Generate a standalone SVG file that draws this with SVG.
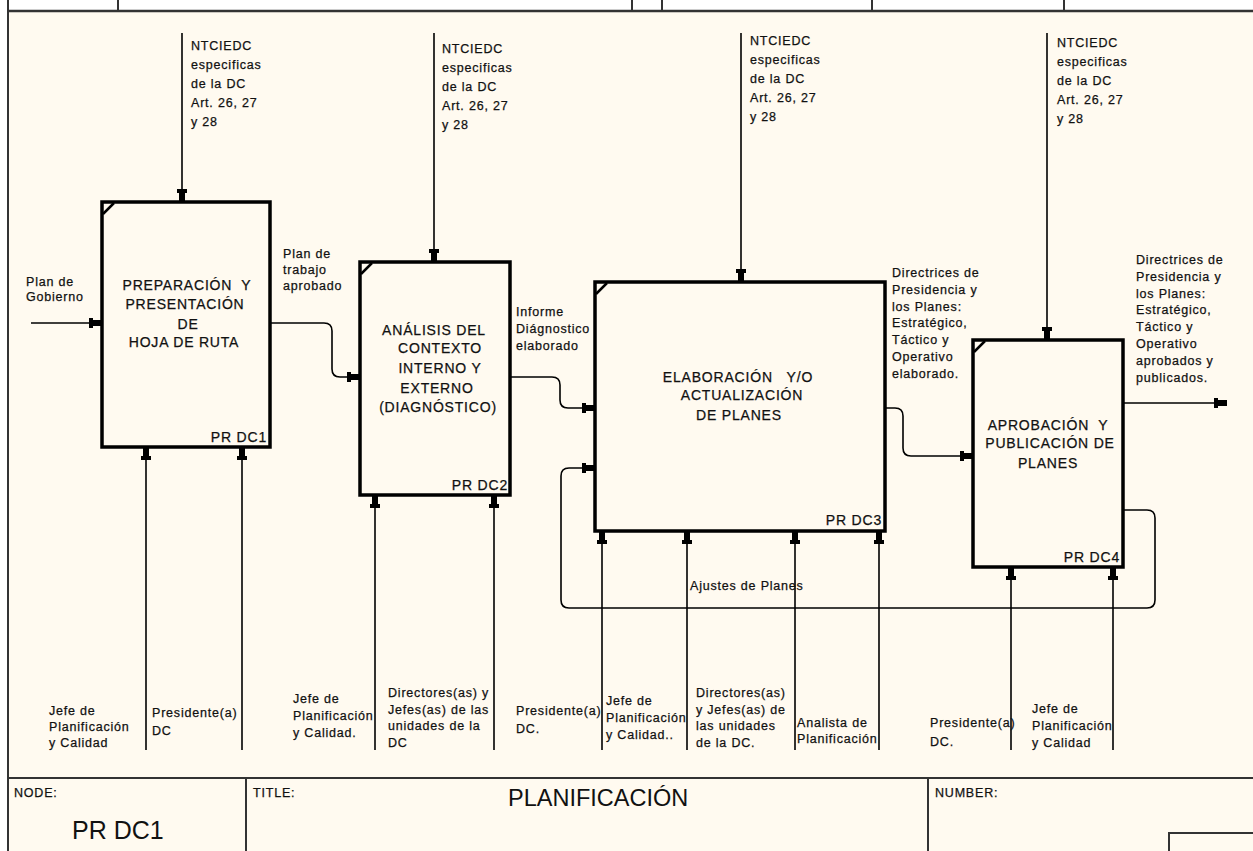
<svg xmlns="http://www.w3.org/2000/svg" width="1253" height="851" viewBox="0 0 1253 851">
<defs>
<style>
text{font-family:"Liberation Sans",Arial,sans-serif;fill:#111;stroke:#111;stroke-width:0.25px}
.s{font-size:12.5px;letter-spacing:0.8px}
.b{font-size:14px;letter-spacing:0.8px;text-anchor:middle}
.id{font-size:14px;letter-spacing:0.8px;text-anchor:end}
.big{font-size:25px;stroke-width:0}
.box{fill:none;stroke:#000;stroke-width:3.5}
.crn{stroke:#000;stroke-width:2.5;fill:none}
.ln{fill:none;stroke:#000;stroke-width:1.6}
.fr{stroke:#333;stroke-width:2;fill:none}
</style>
<marker id="ah" markerUnits="userSpaceOnUse" viewBox="-14 -6 15 12" refX="0" refY="0" markerWidth="15" markerHeight="12" orient="auto">
<path d="M-13,-5 L-9,-5 L-9,-3 L0,-3 L0,3 L-9,3 L-9,5 L-13,5 Z" fill="#000"/>
</marker>
</defs>
<rect x="0" y="0" width="1253" height="851" fill="#fff"/>
<rect x="8" y="11" width="1245" height="840" fill="#fffaf0"/>
<g id="frame">
<line class="fr" x1="8" y1="11" x2="1253" y2="11" style="stroke-width:2.5"/>
<line class="fr" x1="8" y1="0" x2="8" y2="851"/>
<line class="fr" x1="118" y1="0" x2="118" y2="11"/>
<line class="fr" x1="632" y1="0" x2="632" y2="11"/>
<line class="fr" x1="662" y1="0" x2="662" y2="11"/>
<line class="fr" x1="872" y1="0" x2="872" y2="11"/>
<line class="fr" x1="1064" y1="0" x2="1064" y2="11"/>
<line class="fr" x1="8" y1="778" x2="1253" y2="778"/>
<line class="fr" x1="246" y1="778" x2="246" y2="851"/>
<line class="fr" x1="928" y1="778" x2="928" y2="851"/>
<rect class="fr" x="1169" y="833" width="100" height="40"/>
<text class="s" x="14" y="797">NODE:</text>
<text class="s" x="253" y="797">TITLE:</text>
<text class="s" x="935" y="797">NUMBER:</text>
<text class="big" x="72" y="839">PR DC1</text>
<text class="big" x="508" y="806" style="font-size:23.5px">PLANIFICACIÓN</text>
</g>
<g id="connectors">
<path class="ln" d="M182,33 V202" marker-end="url(#ah)"/>
<path class="ln" d="M434,33 V262" marker-end="url(#ah)"/>
<path class="ln" d="M741,33 V282" marker-end="url(#ah)"/>
<path class="ln" d="M1047,33 V340" marker-end="url(#ah)"/>
<path class="ln" d="M31,323 H102" marker-end="url(#ah)"/>
<path class="ln" d="M270,323 H324 Q332,323 332,331 V369 Q332,377 340,377 H360" marker-end="url(#ah)"/>
<path class="ln" d="M510,377 H552 Q560,377 560,385 V400 Q560,408 568,408 H595" marker-end="url(#ah)"/>
<path class="ln" d="M885,408 H895 Q903,408 903,416 V448 Q903,456 911,456 H973" marker-end="url(#ah)"/>
<path class="ln" d="M1123,403 H1227" marker-end="url(#ah)"/>
<path class="ln" d="M1123,510 H1147 Q1155,510 1155,518 V600 Q1155,608 1147,608 H569 Q561,608 561,600 V476 Q561,468 569,468 H595" marker-end="url(#ah)"/>
<path class="ln" d="M146,750 V447" marker-end="url(#ah)"/>
<path class="ln" d="M242,750 V447" marker-end="url(#ah)"/>
<path class="ln" d="M375,750 V495" marker-end="url(#ah)"/>
<path class="ln" d="M494,750 V495" marker-end="url(#ah)"/>
<path class="ln" d="M602,750 V531" marker-end="url(#ah)"/>
<path class="ln" d="M687,750 V531" marker-end="url(#ah)"/>
<path class="ln" d="M795,750 V531" marker-end="url(#ah)"/>
<path class="ln" d="M879,750 V531" marker-end="url(#ah)"/>
<path class="ln" d="M1011,750 V567" marker-end="url(#ah)"/>
<path class="ln" d="M1113,750 V567" marker-end="url(#ah)"/>
</g>
<g id="labels">
<text class="s" x="191" y="50"><tspan x="191">NTCIEDC</tspan><tspan x="191" dy="19">especificas</tspan><tspan x="191" dy="19">de la DC</tspan><tspan x="191" dy="19">Art. 26, 27</tspan><tspan x="191" dy="19">y 28</tspan></text>
<text class="s" x="442" y="53"><tspan x="442">NTCIEDC</tspan><tspan x="442" dy="19">especificas</tspan><tspan x="442" dy="19">de la DC</tspan><tspan x="442" dy="19">Art. 26, 27</tspan><tspan x="442" dy="19">y 28</tspan></text>
<text class="s" x="750" y="45"><tspan x="750">NTCIEDC</tspan><tspan x="750" dy="19">especificas</tspan><tspan x="750" dy="19">de la DC</tspan><tspan x="750" dy="19">Art. 26, 27</tspan><tspan x="750" dy="19">y 28</tspan></text>
<text class="s" x="1057" y="47"><tspan x="1057">NTCIEDC</tspan><tspan x="1057" dy="19">especificas</tspan><tspan x="1057" dy="19">de la DC</tspan><tspan x="1057" dy="19">Art. 26, 27</tspan><tspan x="1057" dy="19">y 28</tspan></text>
<text class="s" x="26" y="286"><tspan x="26">Plan de</tspan><tspan x="26" dy="15">Gobierno</tspan></text>
<text class="s" x="283" y="258"><tspan x="283">Plan de</tspan><tspan x="283" dy="16">trabajo</tspan><tspan x="283" dy="16">aprobado</tspan></text>
<text class="s" x="516" y="316"><tspan x="516">Informe</tspan><tspan x="516" dy="17">Diágnostico</tspan><tspan x="516" dy="17">elaborado</tspan></text>
<text class="s" x="892" y="277"><tspan x="892">Directrices de</tspan><tspan x="892" dy="16.8">Presidencia y</tspan><tspan x="892" dy="16.8">los Planes:</tspan><tspan x="892" dy="16.8">Estratégico,</tspan><tspan x="892" dy="16.8">Táctico y</tspan><tspan x="892" dy="16.8">Operativo</tspan><tspan x="892" dy="16.8">elaborado.</tspan></text>
<text class="s" x="1136" y="264"><tspan x="1136">Directrices de</tspan><tspan x="1136" dy="16.8">Presidencia y</tspan><tspan x="1136" dy="16.8">los Planes:</tspan><tspan x="1136" dy="16.8">Estratégico,</tspan><tspan x="1136" dy="16.8">Táctico y</tspan><tspan x="1136" dy="16.8">Operativo</tspan><tspan x="1136" dy="16.8">aprobados y</tspan><tspan x="1136" dy="16.8">publicados.</tspan></text>
<text class="s" x="690" y="590">Ajustes de Planes</text>
<text class="s" x="49" y="715"><tspan x="49">Jefe de</tspan><tspan x="49" dy="16">Planificación</tspan><tspan x="49" dy="16">y Calidad</tspan></text>
<text class="s" x="152" y="717"><tspan x="152">Presidente(a)</tspan><tspan x="152" dy="18">DC</tspan></text>
<text class="s" x="293" y="703"><tspan x="293">Jefe de</tspan><tspan x="293" dy="17">Planificación</tspan><tspan x="293" dy="17">y Calidad.</tspan></text>
<text class="s" x="388" y="697"><tspan x="388">Directores(as) y</tspan><tspan x="388" dy="16.5">Jefes(as) de las</tspan><tspan x="388" dy="16.5">unidades de la</tspan><tspan x="388" dy="16.5">DC</tspan></text>
<text class="s" x="516" y="715"><tspan x="516">Presidente(a)</tspan><tspan x="516" dy="18">DC.</tspan></text>
<text class="s" x="606" y="705"><tspan x="606">Jefe de</tspan><tspan x="606" dy="17">Planificación</tspan><tspan x="606" dy="17">y Calidad..</tspan></text>
<text class="s" x="696" y="697"><tspan x="696">Directores(as)</tspan><tspan x="696" dy="16.5">y Jefes(as) de</tspan><tspan x="696" dy="16.5">las unidades</tspan><tspan x="696" dy="16.5">de la DC.</tspan></text>
<text class="s" x="797" y="727"><tspan x="797">Analista de</tspan><tspan x="797" dy="16">Planificación</tspan></text>
<text class="s" x="930" y="727"><tspan x="930">Presidente(a)</tspan><tspan x="930" dy="19">DC.</tspan></text>
<text class="s" x="1032" y="713"><tspan x="1032">Jefe de</tspan><tspan x="1032" dy="17">Planificación</tspan><tspan x="1032" dy="17">y Calidad</tspan></text>
</g>
<g id="node-dc1">
<rect class="box" x="102" y="202" width="168" height="245"/>
<path class="crn" d="M103,214 L114,203"/>
<text class="b" xml:space="preserve"><tspan x="187" y="290">PREPARACIÓN  Y</tspan><tspan x="185" y="309">PRESENTACIÓN</tspan><tspan x="188" y="329">DE</tspan><tspan x="184" y="347">HOJA DE RUTA</tspan></text>
<text class="id" x="267" y="442">PR DC1</text>
</g>
<g id="node-dc2">
<rect class="box" x="360" y="262" width="150" height="233"/>
<path class="crn" d="M361,274 L372,263"/>
<text class="b"><tspan x="434" y="335">ANÁLISIS DEL</tspan><tspan x="440" y="353">CONTEXTO</tspan><tspan x="440" y="373">INTERNO Y</tspan><tspan x="437" y="393">EXTERNO</tspan><tspan x="438" y="412">(DIAGNÓSTICO)</tspan></text>
<text class="id" x="508" y="490">PR DC2</text>
</g>
<g id="node-dc3">
<rect class="box" x="595" y="282" width="290" height="249"/>
<path class="crn" d="M596,294 L607,283"/>
<text class="b" xml:space="preserve"><tspan x="738" y="382">ELABORACIÓN   Y/O</tspan><tspan x="742" y="400">ACTUALIZACIÓN</tspan><tspan x="739" y="420">DE PLANES</tspan></text>
<text class="id" x="882" y="525">PR DC3</text>
</g>
<g id="node-dc4">
<rect class="box" x="973" y="340" width="150" height="227"/>
<path class="crn" d="M974,352 L985,341"/>
<text class="b" xml:space="preserve"><tspan x="1048" y="430">APROBACIÓN  Y</tspan><tspan x="1050" y="448">PUBLICACIÓN DE</tspan><tspan x="1048" y="468">PLANES</tspan></text>
<text class="id" x="1120" y="562">PR DC4</text>
</g>
</svg>
